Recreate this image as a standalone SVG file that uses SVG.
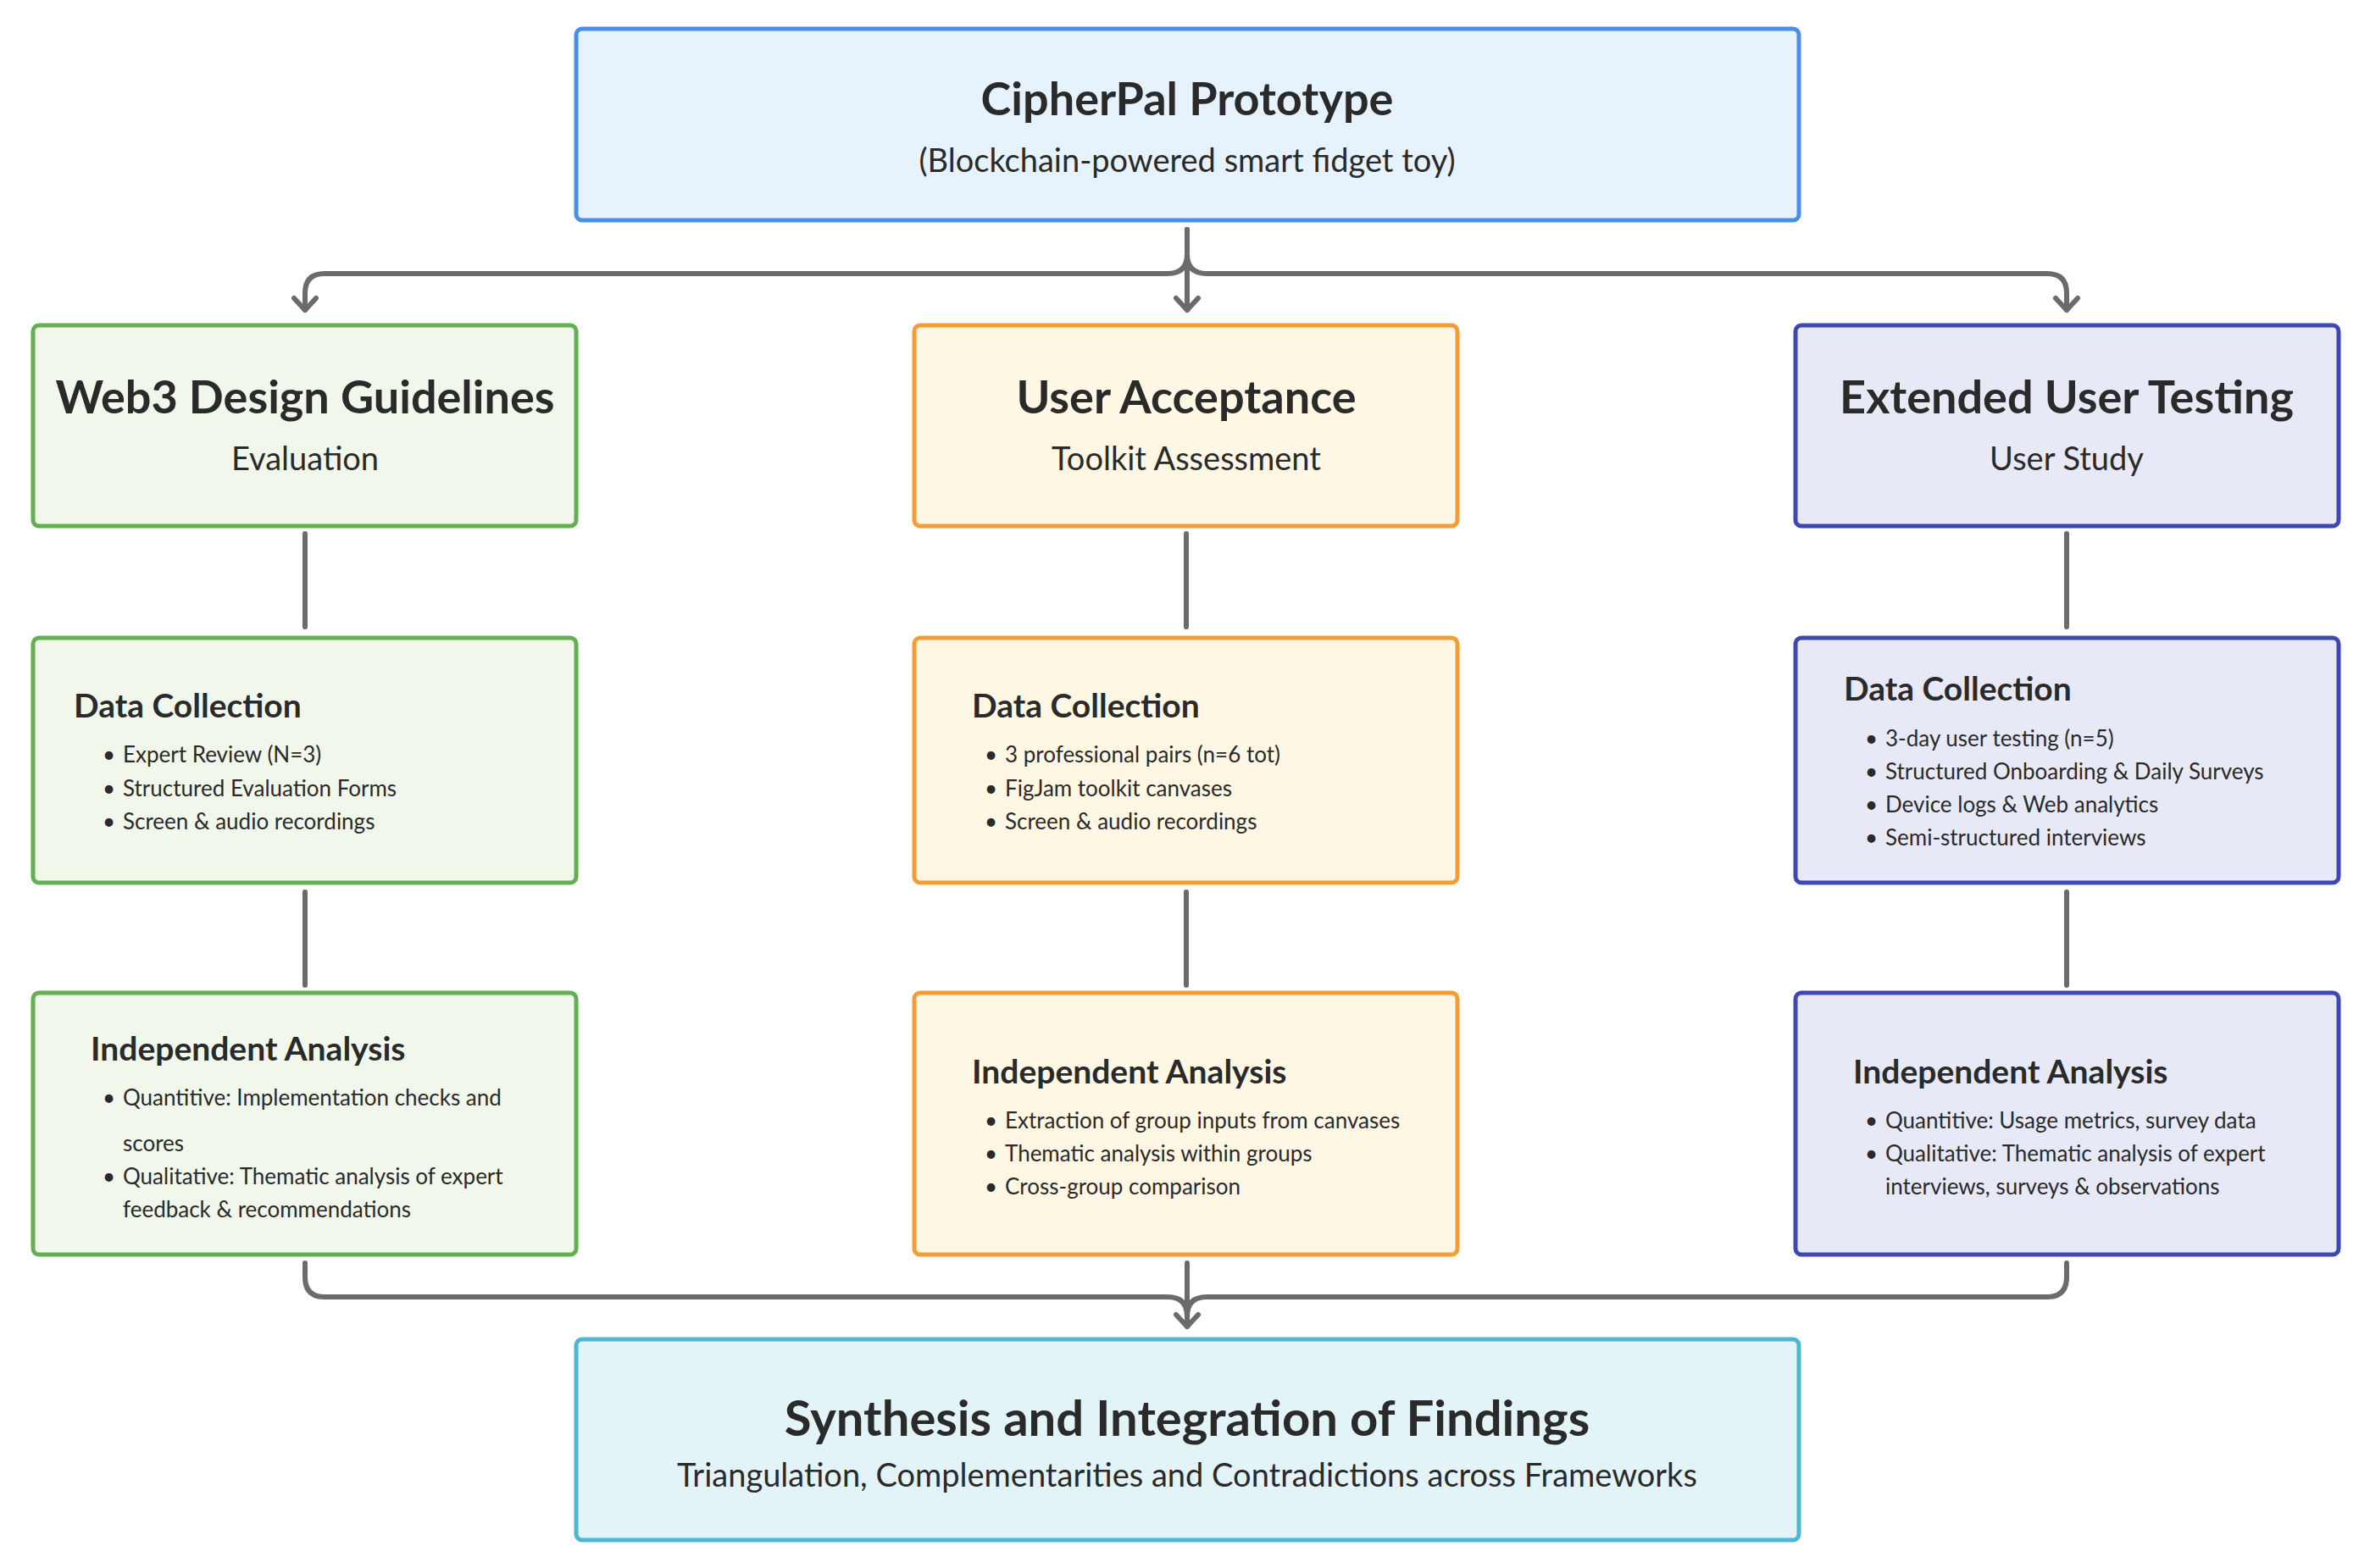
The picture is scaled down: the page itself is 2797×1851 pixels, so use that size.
<svg xmlns="http://www.w3.org/2000/svg" width="2797" height="1851" viewBox="0 0 2797 1851">
<defs>
<marker id="ah" viewBox="0 0 20 20" refX="10" refY="17" markerWidth="20" markerHeight="20" markerUnits="userSpaceOnUse" orient="auto-start-reverse" overflow="visible">
<path d="M-12 3 L10 17 L32 3" transform="rotate(-90 10 17)" fill="none" stroke="#6b6b6b" stroke-width="5" stroke-linecap="round" stroke-linejoin="round"/>
</marker>
<style>
text{font-family:Lato,"Noto Sans",sans-serif;fill:#2a2a2a}
.t{font-size:54px;font-weight:700;text-anchor:middle}
.s{font-size:38px;text-anchor:middle}
.h{font-size:39px;font-weight:700}
.b{font-size:26px}
.box{stroke-width:5}
.g{fill:#f1f7ea;stroke:#62b04f}
.o{fill:#fef7e4;stroke:#f59c34}
.p{fill:#e8e9f6;stroke:#3f47b3}
.c{fill:none;stroke:#6b6b6b;stroke-width:6;stroke-linecap:round;stroke-linejoin:round}
</style>
</defs>
<rect width="2797" height="1851" fill="#ffffff"/>
<g id="connectors">
<path class="c" d="M1401 271 V300 Q1401 323 1378 323 H383 Q360 323 360 346 V366"/>
<path class="c" d="M1401 271 V300 Q1401 323 1424 323 H2416 Q2439 323 2439 346 V366"/>
<path class="c" d="M1401 271 V366"/>
<path class="c" d="M1388 352 L1401 366 L1414 352 M347 352 L360 366 L373 352 M2426 352 L2439 366 L2452 352"/>
<path class="c" d="M360 630 V740 M1400 630 V740 M2439 630 V740 M360 1053 V1163 M1400 1053 V1163 M2439 1053 V1163"/>
<path class="c" d="M360 1491 V1508 Q360 1531 383 1531 H1378 Q1401 1531 1401 1554 V1566 M2439 1491 V1508 Q2439 1531 2416 1531 H1424 Q1401 1531 1401 1554 M1401 1491 V1566"/>
<path class="c" d="M1388 1552 L1401 1566 L1414 1552"/>
</g>
<g id="top">
<rect x="680" y="34" width="1443" height="226" rx="7" fill="#e6f2fc" stroke="#4a8fe6" stroke-width="5"/>
<text class="t" x="1401" y="136">CipherPal Prototype</text>
<text class="s" x="1401" y="203">(Blockchain-powered smart fidget toy)</text>
</g>
<g id="web3">
<rect class="box g" x="39" y="384" width="641" height="237" rx="7"/>
<text class="t" x="360" y="488">Web3 Design Guidelines</text>
<text class="s" x="360" y="555">Evaluation</text>
</g>
<g id="uat">
<rect class="box o" x="1079" y="384" width="641" height="237" rx="7"/>
<text class="t" x="1400" y="488">User Acceptance</text>
<text class="s" x="1400" y="555">Toolkit Assessment</text>
</g>
<g id="ext">
<rect class="box p" x="2119" y="384" width="641" height="237" rx="7"/>
<text class="t" x="2439" y="488">Extended User Testing</text>
<text class="s" x="2439" y="555">User Study</text>
</g>
<g id="dc1">
<rect class="box g" x="39" y="753" width="641" height="289" rx="7"/>
<text class="h" x="87" y="847">Data Collection</text>
<text class="b" x="121" y="900">•</text><text class="b" x="145" y="900">Expert Review (N=3)</text>
<text class="b" x="121" y="940">•</text><text class="b" x="145" y="940">Structured Evaluation Forms</text>
<text class="b" x="121" y="979">•</text><text class="b" x="145" y="979">Screen &amp; audio recordings</text>
</g>
<g id="dc2">
<rect class="box o" x="1079" y="753" width="641" height="289" rx="7"/>
<text class="h" x="1147" y="847">Data Collection</text>
<text class="b" x="1162" y="900">•</text><text class="b" x="1186" y="900">3 professional pairs (n=6 tot)</text>
<text class="b" x="1162" y="940">•</text><text class="b" x="1186" y="940">FigJam toolkit canvases</text>
<text class="b" x="1162" y="979">•</text><text class="b" x="1186" y="979">Screen &amp; audio recordings</text>
</g>
<g id="dc3">
<rect class="box p" x="2119" y="753" width="641" height="289" rx="7"/>
<text class="h" x="2176" y="827">Data Collection</text>
<text class="b" x="2201" y="881">•</text><text class="b" x="2225" y="881">3-day user testing (n=5)</text>
<text class="b" x="2201" y="920">•</text><text class="b" x="2225" y="920">Structured Onboarding &amp; Daily Surveys</text>
<text class="b" x="2201" y="959">•</text><text class="b" x="2225" y="959">Device logs &amp; Web analytics</text>
<text class="b" x="2201" y="998">•</text><text class="b" x="2225" y="998">Semi-structured interviews</text>
</g>
<g id="ia1">
<rect class="box g" x="39" y="1172" width="641" height="309" rx="7"/>
<text class="h" x="107" y="1252">Independent Analysis</text>
<text class="b" x="121" y="1305">•</text><text class="b" x="145" y="1305">Quantitive: Implementation checks and</text>
<text class="b" x="145" y="1359">scores</text>
<text class="b" x="121" y="1398">•</text><text class="b" x="145" y="1398">Qualitative: Thematic analysis of expert</text>
<text class="b" x="145" y="1437">feedback &amp; recommendations</text>
</g>
<g id="ia2">
<rect class="box o" x="1079" y="1172" width="641" height="309" rx="7"/>
<text class="h" x="1147" y="1279">Independent Analysis</text>
<text class="b" x="1162" y="1332">•</text><text class="b" x="1186" y="1332">Extraction of group inputs from canvases</text>
<text class="b" x="1162" y="1371">•</text><text class="b" x="1186" y="1371">Thematic analysis within groups</text>
<text class="b" x="1162" y="1410">•</text><text class="b" x="1186" y="1410">Cross-group comparison</text>
</g>
<g id="ia3">
<rect class="box p" x="2119" y="1172" width="641" height="309" rx="7"/>
<text class="h" x="2187" y="1279">Independent Analysis</text>
<text class="b" x="2201" y="1332">•</text><text class="b" x="2225" y="1332">Quantitive: Usage metrics, survey data</text>
<text class="b" x="2201" y="1371">•</text><text class="b" x="2225" y="1371">Qualitative: Thematic analysis of expert</text>
<text class="b" x="2225" y="1410">interviews, surveys &amp; observations</text>
</g>
<g id="synthesis">
<rect x="680" y="1581" width="1443" height="237" rx="7" fill="#e3f4f9" stroke="#4fb6d2" stroke-width="5"/>
<text class="t" x="1401" y="1695" style="font-size:58px">Synthesis and Integration of Findings</text>
<text class="s" x="1401" y="1755">Triangulation, Complementarities and Contradictions across Frameworks</text>
</g>
</svg>
